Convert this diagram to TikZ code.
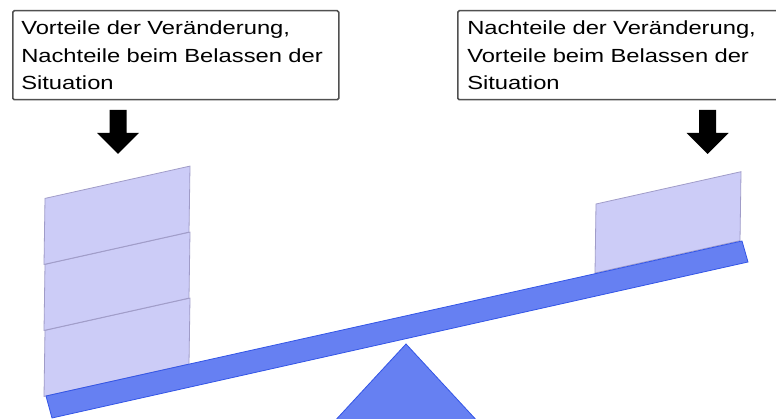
\documentclass[tikz,border=0pt]{standalone}
\usepackage{fontspec}
\setmainfont[FakeStretch=1.25]{Liberation Sans}

\definecolor{blockfill}{RGB}{204,204,247}
\definecolor{blockline}{RGB}{160,156,200}
\definecolor{beamfill}{RGB}{102,128,242}
\definecolor{beamline}{RGB}{51,85,230}
\definecolor{boxline}{RGB}{80,80,80}

\tikzset{
  infobox/.style={draw=boxline, line width=1.5pt, rounded corners=1.5pt,
    anchor=north west, minimum height=89pt, inner xsep=8.5pt,
    text width=309pt, align=left, font=\fontsize{19}{27.5}\selectfont}
}

\begin{document}
\begin{tikzpicture}[x=1pt,y=-1pt]
\useasboundingbox (0,0) rectangle (776,419);
\clip (0,0) rectangle (776,419);

\def\slope{-32.3}

\def\block#1#2#3{
  \filldraw[fill=blockfill, draw=blockline, line width=0.8pt] (#1,#2) -- ++(145,\slope) -- ++(1,-#3) -- ++(-145,-\slope) -- cycle;
}
\def\bigarrow#1#2{
  \fill (#1-8.5,#2) -- (#1+8.5,#2) -- (#1+8.5,#2+23) -- (#1+21,#2+23) -- (#1,#2+44) -- (#1-21,#2+23) -- (#1-8.5,#2+23) -- cycle;
}

% Text boxes

\node[infobox] (pro) at (12,10) {Vorteile der Veränderung,\\Nachteile beim Belassen der\\Situation};
\node[infobox, inner xsep=9.5pt, text width=322pt] (contra) at (457,10) {Nachteile der Veränderung,\\Vorteile beim Belassen der\\Situation};

\bigarrow{118}{110}
\bigarrow{707.5}{110}

% Weights on both sides

\foreach \y in {396.4,330.4,264.4} {\block{44}{\y}{66}}
\block{595}{273}{69}

% Seesaw

\filldraw[fill=beamfill, draw=beamline, line width=0.8pt] (406,344) -- (480,424) -- (332,424) -- cycle;
\filldraw[fill=beamfill, draw=beamline, line width=0.8pt] (46,396) -- (742,241) -- (748,262) -- (52,418) -- cycle;

\end{tikzpicture}
\end{document}
